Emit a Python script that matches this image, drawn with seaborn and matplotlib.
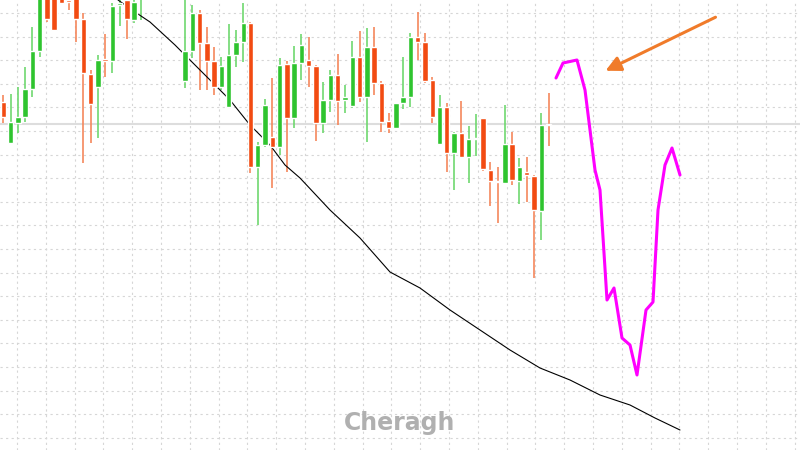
import matplotlib
matplotlib.use("Agg")
import matplotlib.pyplot as plt
import seaborn as sns
import numpy as np
import pandas as pd

opens  = [398,357,377,383,411,449,505,505,502,500,503,481,426,413,441,439,495,500,480,502,512,535,520,530,510,
          419,449,487,457,439,413,393,445,458,477,333,355,363,353,436,382,437,440,434,377,400,425,400,394,443,
          403,453,417,379,372,397,403,463,458,420,356,393,347,367,343,361,382,330,319,317,356,319,328,324,289,376]
closes = [383,378,383,411,449,505,481,470,497,498,481,427,396,440,439,494,497,481,498,508,530,515,540,510,502,
          449,487,457,439,413,434,445,458,477,333,355,395,353,435,382,437,455,434,377,400,425,399,403,443,403,
          453,417,378,372,397,403,463,458,419,383,393,347,367,343,361,362,331,319,318,356,320,333,325,290,375,375]
highs  = [405,406,413,433,473,510,510,512,508,510,508,487,430,445,466,497,505,505,505,515,540,545,550,540,520,
          505,495,490,473,453,443,476,470,497,478,358,401,422,442,439,454,466,463,435,418,430,446,415,459,469,
          472,473,419,387,397,443,467,488,467,423,405,397,368,399,374,386,382,338,333,395,368,342,343,325,387,407]
lows   = [377,357,367,378,403,443,478,470,497,490,458,337,357,362,423,427,474,461,477,480,505,505,510,502,501,
          412,442,410,410,405,410,393,433,438,327,275,353,312,345,328,372,420,413,359,367,388,375,387,392,398,
          358,405,368,367,372,391,393,440,417,377,356,328,310,342,317,344,329,294,277,316,315,296,298,222,260,354]

black_x = [118,135,150,175,205,230,250,270,285,300,330,360,390,420,450,480,510,540,570,600,630,655,680]
black_y = [500,488,478,455,425,400,375,355,335,322,290,262,228,212,190,170,150,132,120,105,95,82,70]
pink_x = [556,563,577,585,595,600,607,614,622,630,637,646,653,658,665,672,680]
pink_y = [422,437,440,410,330,310,200,212,162,155,125,190,198,290,335,352,325]

sns.set_style("white")
fig = plt.figure(figsize=(8, 4.5), dpi=100)
ax = fig.add_axes([0, 0, 1, 1])
ax.set_xlim(0, 800)
ax.set_ylim(50, 500)
ax.set_xticks(np.arange(17, 800, 28.8))
ax.set_yticks(np.arange(487, 40, -23.6))
ax.grid(True, color="#d6d6d6", linestyle=(0, (2, 3)), linewidth=0.8)
ax.tick_params(length=0, labelbottom=False, labelleft=False)
for s in ax.spines.values():
    s.set_visible(False)
ax.axhline(376, color="#dddddd", linewidth=1.5, zorder=1)

df = pd.DataFrame({"o": opens, "c": closes, "h": highs, "l": lows})
df["x"] = 3.3 + 7.27 * np.arange(len(df))
up = df["c"] >= df["o"]
green, red = "#2fc42f", "#f24b12"
wick_g, wick_r = "#6fd86f", "#f5875c"
ax.vlines(df["x"], df["l"], df["h"], colors=np.where(up, wick_g, wick_r), linewidth=1.2, zorder=2)
bot = np.minimum(df["o"], df["c"])
hgt = np.maximum(np.abs(df["c"] - df["o"]), 1.5)
ax.bar(df["x"], hgt, bottom=bot, width=5.4, color=np.where(up, green, red), zorder=3)

sns.lineplot(x=black_x, y=black_y, ax=ax, color="black", linewidth=0.8, sort=False)
sns.lineplot(x=pink_x, y=pink_y, ax=ax, color="#ff00ff", linewidth=2.2, sort=False)

ax.annotate("", xy=(603, 428), xytext=(718, 484),
            arrowprops=dict(arrowstyle="-|>,head_length=0.9,head_width=0.45", color="#f07b2a", lw=2.2))
ax.text(400, 27, "Cheragh", transform=None, ha="center", va="center", fontsize=17,
        color="#b0b0b0", fontweight="bold", family="DejaVu Sans")
fig.savefig("out.png", dpi=100)
